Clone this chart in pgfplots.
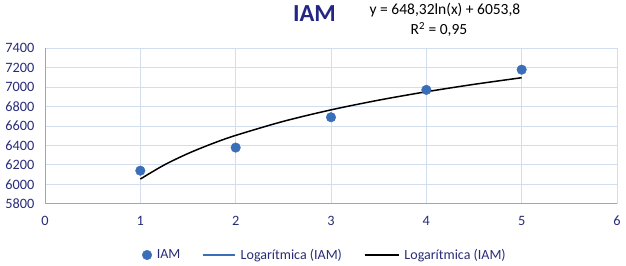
\documentclass[border=0pt]{standalone}
\usepackage{pgfplots}
\pgfplotsset{compat=1.18}
\usepackage{fontspec}
\setmainfont{Carlito}
\definecolor{navy}{RGB}{40,44,120}
\definecolor{titlecol}{RGB}{36,38,132}
\definecolor{mk}{RGB}{58,110,184}
\definecolor{gridc}{RGB}{210,222,238}
\definecolor{axc}{RGB}{142,169,216}
\pgfplotsset{
  legmark/.style={legend image code/.code={\draw[##1] plot coordinates {(5pt,0pt)};}},
  leglineA/.style={legend image code/.code={\draw[##1] (0pt,0pt) -- (32pt,0pt);}},
  leglineB/.style={legend image code/.code={\draw[##1] (0pt,0pt) -- (34pt,0pt);}},
}
\begin{document}
\begin{tikzpicture}[x=1pt,y=1pt]
\useasboundingbox (0,0) rectangle (626,265);
\begin{axis}[
  at={(45pt,61.3pt)}, anchor=south west,
  scale only axis, width=572pt, height=155.4pt,
  xmin=0, xmax=6, ymin=5800, ymax=7400,
  xtick={0,1,2,3,4,5,6}, ytick={5800,6000,...,7400},
  grid=major, major grid style={gridc, line width=0.9pt},
  axis x line*=bottom, axis y line*=left,
  axis line style={axc, line width=1pt, -},
  major tick length=0pt,
  /pgf/number format/assume math mode=true,
  /pgf/number format/1000 sep={},
  ticklabel style={font=\fontsize{14.3}{16}\selectfont, text=navy},
  xticklabel style={yshift=-9pt},
  yticklabel style={xshift=-7pt},
  clip=false,
  legend style={at={(0.4895,-0.33)}, anchor=center, draw=none, fill=none,
    font=\fontsize{14}{16}\selectfont, text=navy,
    legend columns=3,
    /tikz/every odd column/.append style={column sep=3pt},
    /tikz/every even column/.append style={column sep=20pt}},
]
\addplot[only marks, mark=*, mark size=4.8pt, color=mk, legmark]
  coordinates {(1,6140) (2,6378) (3,6690) (4,6972) (5,7180)};
\addlegendentry{IAM}
\addlegendimage{color=mk, line width=1.3pt, leglineA}
\addlegendentry{Logarítmica (IAM)}
\addplot[black, line width=1.5pt, smooth, no marks, leglineB]
  coordinates {(1,6053.8) (1.25,6198.5) (1.5,6316.7) (1.75,6416.6) (2,6503.2)
  (2.5,6647.8) (3,6766.1) (3.5,6866.0) (4,6952.6) (4.5,7028.9) (5,7097.2)};
\addlegendentry{Logarítmica (IAM)}
\end{axis}
\node[font=\bfseries\fontsize{24.5}{28}\selectfont, text=titlecol] at (314.5,251) {IAM};
\node[anchor=base, font=\fontsize{15.5}{18}\selectfont, inner sep=0pt] at (445,250) {y = 648,32ln(x) + 6053,8};
\node[anchor=base, font=\fontsize{15.5}{18}\selectfont, inner sep=0pt] at (439,230) {R\textsuperscript{2} = 0,95};
\end{tikzpicture}
\end{document}
